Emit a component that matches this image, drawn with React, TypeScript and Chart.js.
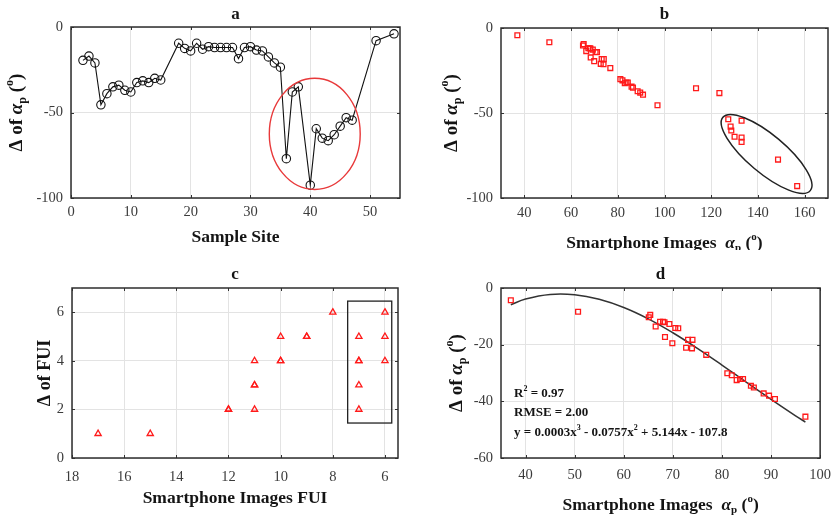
import React, { useEffect, useRef } from 'react';
import { Chart, registerables } from 'chart.js';
Chart.register(...registerables);

// ---------- Data ----------
const sampleSite = [2, 3, 4, 5, 6, 7, 8, 9, 10, 11, 12, 13, 14, 15, 18, 19, 20, 21, 22, 23, 24, 25, 26, 27, 28, 29, 30, 31, 32, 33, 34, 35, 36, 37, 38, 40, 41, 42, 43, 44, 45, 46, 47, 51, 54];
const deltaBySite = [-19.5, -17, -21, -45.5, -39, -35, -34, -37, -38, -32.5, -31.5, -32.5, -30, -31, -9.5, -12.5, -14, -9.5, -13, -11.5, -12, -12, -12, -12, -18.5, -12, -11.5, -13.5, -14, -17.5, -21, -23.5, -77, -38, -35, -92.5, -59.5, -65, -66.5, -63, -58, -53, -54.5, -8, -4];

const smartphoneAlpha = [37.0, 50.7, 65.1, 65.4, 66.5, 67.4, 68.0, 68.3, 68.4, 69.3, 69.9, 70.5, 71.1, 72.7, 73.1, 73.9, 74.0, 76.8, 81.1, 82.0, 83.0, 83.7, 84.3, 85.9, 86.5, 88.5, 89.6, 90.8, 97.0, 113.5, 123.5, 127.3, 128.3, 128.6, 130.0, 133.0, 133.0, 133.0, 148.6, 156.8];
const deltaAlpha = [-4.3, -8.4, -10.3, -9.5, -13.6, -11.9, -11.9, -12.1, -17.3, -12.7, -19.5, -14.1, -14.2, -21.1, -18.3, -21.3, -18.3, -23.6, -30.1, -30.8, -32.5, -32.1, -32.1, -34.5, -35.1, -37.2, -38.0, -39.2, -45.4, -35.4, -38.3, -53.7, -58.0, -60.3, -64.0, -54.5, -64.4, -67.0, -77.4, -93.0];

const fuiSmartphone = [17, 15, 12, 12, 11, 11, 11, 11, 10, 10, 10, 9, 9, 8, 7, 7, 7, 7, 7, 6, 6, 6];
const fuiDelta = [1, 1, 2, 2, 2, 3, 3, 4, 4, 4, 5, 5, 5, 6, 2, 3, 4, 4, 5, 4, 5, 6];

const fitX = [37, 40, 45, 50, 55, 60, 65, 70, 75, 80, 85, 90, 95, 97];
const fitY = [-5.9, -3.9, -2.3, -2.4, -4.0, -6.9, -10.9, -15.8, -21.3, -27.2, -33.3, -39.3, -45.1, -47.3];

const ticksA_X = [0, 10, 20, 30, 40, 50];
const ticksA_Y = [-100, -50, 0];
const ticksB_X = [40, 60, 80, 100, 120, 140, 160];
const ticksB_Y = [-100, -50, 0];
const ticksC_X = [6, 8, 10, 12, 14, 16, 18];
const ticksC_Y = [0, 2, 4, 6];
const ticksD_X = [40, 50, 60, 70, 80, 90, 100];
const ticksD_Y = [-60, -40, -20, 0];

const fitText = ['R', '2', ' = 0.97'];

// ---------- Helpers ----------
type Seg = { t: string; italic?: boolean; sub?: boolean; sup?: boolean };
const FONT = '"Liberation Serif", serif';

function drawRich(ctx: CanvasRenderingContext2D, segs: Seg[], x: number, y: number, size: number, rotate: boolean, align: 'center' | 'left' = 'center') {
  ctx.save();
  ctx.translate(x, y);
  if (rotate) ctx.rotate(-Math.PI / 2);
  const fontFor = (s: Seg) => `${s.italic ? 'italic ' : ''}bold ${s.sub || s.sup ? Math.round(size * 0.62) : size}px ${FONT}`;
  let total = 0;
  for (const s of segs) { ctx.font = fontFor(s); total += ctx.measureText(s.t).width; }
  let cx = align === 'center' ? -total / 2 : 0;
  ctx.textBaseline = 'middle';
  ctx.textAlign = 'left';
  ctx.fillStyle = '#141414';
  for (const s of segs) {
    ctx.font = fontFor(s);
    const dy = s.sub ? size * 0.32 : s.sup ? -size * 0.36 : 0;
    ctx.fillText(s.t, cx, dy);
    cx += ctx.measureText(s.t).width;
  }
  ctx.restore();
}

const alphaTitleY: Seg[] = [{ t: 'Δ of ' }, { t: 'α', italic: true }, { t: 'p', sub: true }, { t: ' (' }, { t: 'o', sup: true }, { t: ')' }];
const alphaTitleX: Seg[] = [{ t: 'Smartphone Images  ' }, { t: 'α', italic: true }, { t: 'p', sub: true }, { t: ' (' }, { t: 'o', sup: true }, { t: ')' }];

type Panel = {
  w: number; h: number; left: number; top: number;
  yAxisW: number; xAxisH: number; padRight: number; padTop: number; xTickPad: number;
  xMin: number; xMax: number; yMin: number; yMax: number; reverse?: boolean;
  xTicks: number[]; yTicks: number[];
  title: string; titleY: number; xTitle: Seg[]; xTitleY: number; yTitle: Seg[]; yTitleX: number; yTitleSize: number;
  datasets: any[];
  extra?: (chart: any) => void;
};

function PanelChart({ p }: { p: Panel }) {
  const ref = useRef<HTMLCanvasElement>(null);
  useEffect(() => {
    const canvas = ref.current!;
    const framePlugin = {
      id: 'frame',
      afterDraw(chart: any) {
        const ctx = chart.ctx as CanvasRenderingContext2D;
        const a = chart.chartArea;
        const xs = chart.scales.x, ys = chart.scales.y;
        ctx.save();
        ctx.strokeStyle = '#333';
        ctx.lineWidth = 1;
        ctx.beginPath();
        for (const v of p.xTicks) {
          const px = Math.round(xs.getPixelForValue(v)) + 0.5;
          ctx.moveTo(px, a.bottom); ctx.lineTo(px, a.bottom - 3);
          ctx.moveTo(px, a.top); ctx.lineTo(px, a.top + 3);
        }
        for (const v of p.yTicks) {
          const py = Math.round(ys.getPixelForValue(v)) + 0.5;
          ctx.moveTo(a.left, py); ctx.lineTo(a.left + 3, py);
          ctx.moveTo(a.right, py); ctx.lineTo(a.right - 3, py);
        }
        ctx.stroke();
        ctx.strokeStyle = '#2e2e2e';
        ctx.lineWidth = 1.5;
        ctx.strokeRect(a.left, a.top, a.right - a.left, a.bottom - a.top);
        ctx.restore();
        if (p.extra) p.extra(chart);
        const cxm = (a.left + a.right) / 2;
        const cym = (a.top + a.bottom) / 2;
        drawRich(ctx, [{ t: p.title }], cxm, p.titleY, 17, false);
        drawRich(ctx, p.xTitle, cxm, p.xTitleY, 17.5, false);
        drawRich(ctx, p.yTitle, p.yTitleX, cym, p.yTitleSize, true);
      },
    };
    const tickFont = { family: FONT, size: 14.5 };
    const chart = new Chart(canvas, {
      type: 'scatter',
      data: { datasets: p.datasets },
      options: {
        animation: false,
        responsive: false,
        devicePixelRatio: 1,
        layout: { padding: { left: 0, right: p.padRight, top: p.padTop, bottom: 0 } },
        plugins: { legend: { display: false }, title: { display: false }, tooltip: { enabled: false } },
        scales: {
          x: {
            type: 'linear', min: p.xMin, max: p.xMax, reverse: !!p.reverse,
            afterBuildTicks: (s: any) => { s.ticks = p.xTicks.map((v) => ({ value: v })); },
            afterFit: (s: any) => { s.height = p.xAxisH; },
            ticks: { font: tickFont, color: '#3b3b3b', padding: p.xTickPad, maxRotation: 0, autoSkip: false },
            grid: { color: '#e3e3e3', lineWidth: 1, drawTicks: false },
            border: { display: false },
          },
          y: {
            type: 'linear', min: p.yMin, max: p.yMax,
            afterBuildTicks: (s: any) => { s.ticks = p.yTicks.map((v) => ({ value: v })); },
            afterFit: (s: any) => { s.width = p.yAxisW; },
            ticks: { font: tickFont, color: '#3b3b3b', padding: 8, autoSkip: false },
            grid: { color: '#e3e3e3', lineWidth: 1, drawTicks: false },
            border: { display: false },
          },
        },
      },
      plugins: [framePlugin],
    } as any);
    return () => chart.destroy();
  }, []);
  return (
    <canvas ref={ref} width={p.w} height={p.h}
      style={{ position: 'absolute', left: p.left, top: p.top, width: p.w, height: p.h }} />
  );
}

function toPts(xs: number[], ys: number[]) { return xs.map((x, i) => ({ x, y: ys[i] })); }

const redSquares = {
  pointStyle: 'rect', pointRadius: 3.4, borderColor: '#ff1a1a', backgroundColor: 'rgba(0,0,0,0)', pointBorderWidth: 1.3, showLine: false,
};

const panels: Panel[] = [
  {
    w: 420, h: 250, left: 0, top: 0, yAxisW: 71, xAxisH: 52, padRight: 20, padTop: 27, xTickPad: 5,
    xMin: 0, xMax: 55, yMin: -100, yMax: 0, xTicks: ticksA_X, yTicks: ticksA_Y,
    title: 'a', titleY: 15, xTitle: [{ t: 'Sample Site' }], xTitleY: 237, yTitle: alphaTitleY, yTitleX: 17, yTitleSize: 19,
    datasets: [{
      data: toPts(sampleSite, deltaBySite), showLine: true, borderColor: '#111', borderWidth: 1.1,
      pointStyle: 'circle', pointRadius: 4.2, pointBorderColor: '#111', pointBackgroundColor: 'rgba(0,0,0,0)', pointBorderWidth: 1.1,
    }],
    extra: (chart: any) => {
      const ctx = chart.ctx; const xs = chart.scales.x; const ys = chart.scales.y;
      const cx = xs.getPixelForValue(40.75), cy = ys.getPixelForValue(-62.5);
      const rx = xs.getPixelForValue(40.75 + 7.6) - cx, ry = ys.getPixelForValue(-62.5 + 32.5) - cy;
      ctx.save(); ctx.strokeStyle = '#e8393a'; ctx.lineWidth = 1.4;
      ctx.beginPath(); ctx.ellipse(cx, cy, Math.abs(rx), Math.abs(ry), 0, 0, Math.PI * 2); ctx.stroke(); ctx.restore();
    },
  },
  {
    w: 419, h: 250, left: 420, top: 0, yAxisW: 81, xAxisH: 52, padRight: 11, padTop: 28, xTickPad: 6,
    xMin: 30, xMax: 170, yMin: -100, yMax: 0, xTicks: ticksB_X, yTicks: ticksB_Y,
    title: 'b', titleY: 15, xTitle: alphaTitleX, xTitleY: 243, yTitle: alphaTitleY, yTitleX: 32, yTitleSize: 19,
    datasets: [{ data: toPts(smartphoneAlpha, deltaAlpha), ...redSquares }],
    extra: (chart: any) => {
      const ctx = chart.ctx; const xs = chart.scales.x; const ys = chart.scales.y;
      const cx = xs.getPixelForValue(143.7), cy = ys.getPixelForValue(-74.1);
      ctx.save(); ctx.strokeStyle = '#222'; ctx.lineWidth = 1.5;
      ctx.beginPath(); ctx.ellipse(cx, cy, 57, 19, (40 * Math.PI) / 180, 0, Math.PI * 2); ctx.stroke(); ctx.restore();
    },
  },
  {
    w: 420, h: 268, left: 0, top: 250, yAxisW: 72, xAxisH: 60, padRight: 22, padTop: 38, xTickPad: 10,
    xMin: 5.5, xMax: 18, reverse: true, yMin: 0, yMax: 7, xTicks: ticksC_X, yTicks: ticksC_Y,
    title: 'c', titleY: 25, xTitle: [{ t: 'Smartphone Images FUI' }], xTitleY: 248, yTitle: [{ t: 'Δ of FUI' }], yTitleX: 45, yTitleSize: 18,
    datasets: [{
      data: toPts(fuiSmartphone, fuiDelta), pointStyle: 'triangle', pointRadius: 3.6,
      borderColor: '#ff1a1a', backgroundColor: 'rgba(0,0,0,0)', pointBorderWidth: 1.3, showLine: false,
    }],
    extra: (chart: any) => {
      const ctx = chart.ctx; const xs = chart.scales.x; const ys = chart.scales.y;
      const x1 = xs.getPixelForValue(7.43), x2 = xs.getPixelForValue(5.74);
      const y1 = ys.getPixelForValue(6.46), y2 = ys.getPixelForValue(1.44);
      ctx.save(); ctx.strokeStyle = '#222'; ctx.lineWidth = 1.3;
      ctx.strokeRect(Math.min(x1, x2), Math.min(y1, y2), Math.abs(x2 - x1), Math.abs(y2 - y1)); ctx.restore();
    },
  },
  {
    w: 419, h: 268, left: 420, top: 250, yAxisW: 81, xAxisH: 60, padRight: 11, padTop: 38, xTickPad: 8,
    xMin: 35, xMax: 100, yMin: -60, yMax: 0, xTicks: ticksD_X, yTicks: ticksD_Y,
    title: 'd', titleY: 25, xTitle: alphaTitleX, xTitleY: 255, yTitle: alphaTitleY, yTitleX: 37, yTitleSize: 19,
    datasets: [
      { data: toPts(smartphoneAlpha, deltaAlpha).filter((d) => d.x <= 100), ...redSquares },
      { data: toPts(fitX, fitY), showLine: true, pointRadius: 0, borderColor: '#333', borderWidth: 1.5, tension: 0.4 },
    ],
    extra: (chart: any) => {
      const ctx = chart.ctx; const a = chart.chartArea;
      const lx = a.left + 13;
      drawRich(ctx, [{ t: fitText[0] }, { t: fitText[1], sup: true }, { t: fitText[2] }], lx, 144, 13, false, 'left');
      drawRich(ctx, [{ t: 'RMSE = 2.00' }], lx, 163, 13, false, 'left');
      drawRich(ctx, [{ t: 'y = 0.0003x' }, { t: '3', sup: true }, { t: ' - 0.0757x' }, { t: '2', sup: true }, { t: ' + 5.144x - 107.8' }], lx, 183, 13, false, 'left');
    },
  },
];

export default function App() {
  return (
    <div style={{ position: 'absolute', left: 0, top: 0, width: 839, height: 518, background: '#fff' }}>
      {panels.map((p, i) => <PanelChart key={i} p={p} />)}
    </div>
  );
}
